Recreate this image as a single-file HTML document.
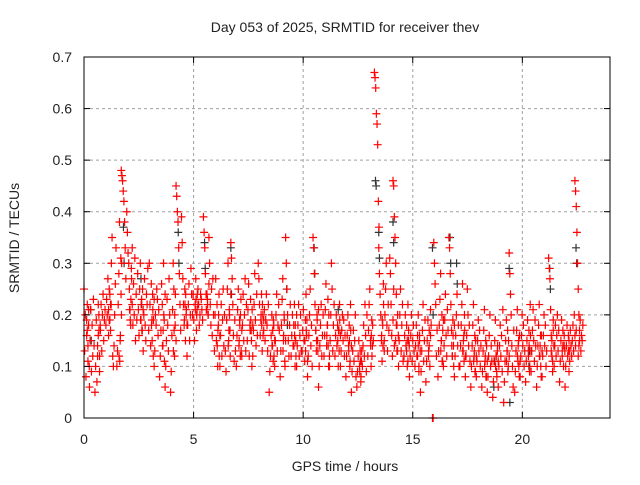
<!DOCTYPE html>
<html><head><meta charset="utf-8"><style>
body{margin:0;background:#fff;}
svg text{font-family:"Liberation Sans",sans-serif;font-size:14px;fill:#222;}
</style></head><body>
<svg id="chart" width="640" height="480" xmlns="http://www.w3.org/2000/svg">
<rect width="640" height="480" fill="#fff"/>
<g id="grid"></g>
<g id="marksBlack"></g>
<g id="marksRed"></g>
<rect x="84" y="57" width="526" height="361" fill="none" stroke="#000" stroke-width="1"/>
<g id="ticks"></g>
<text x="345" y="32" text-anchor="middle">Day 053 of 2025, SRMTID for receiver thev</text>
<text x="345" y="471" text-anchor="middle">GPS time / hours</text>
<text x="19" y="238" text-anchor="middle" transform="rotate(-90 19 238)">SRMTID / TECUs</text>
</svg>
<script>
const xTicks=[0,5,10,15,20];
const yTicks=[0,0.1,0.2,0.3,0.4,0.5,0.6,0.7];
const yTickLabels=["0","0.1","0.2","0.3","0.4","0.5","0.6","0.7"];
const redRows=[
[0.0,0.25,0.13,0.20,0.08,0.16,0.22,0.11,0.18],
[0.25,0.06,0.15,0.21,0.09,0.18,0.12,0.23,0.14],
[0.5,0.05,0.10,0.19,0.07,0.14,0.22,0.17,0.12],
[0.75,0.17,0.22,0.13,0.20,0.24,0.15,0.19,0.21],
[1.0,0.18,0.23,0.20,0.27,0.16,0.25,0.19,0.22],
[1.25,0.30,0.35,0.12,0.10,0.14,0.20,0.26,0.33],
[1.5,0.10,0.13,0.22,0.28,0.38,0.15,0.31,0.20],
[1.7,0.48,0.47,0.46,0.44,0.42,0.38,0.33,0.27],
[1.95,0.40,0.36,0.32,0.30,0.25,0.21,0.18,0.29],
[2.2,0.22,0.18,0.26,0.20,0.31,0.15,0.24,0.19],
[2.45,0.28,0.21,0.16,0.25,0.30,0.19,0.23,0.17],
[2.7,0.13,0.20,0.27,0.18,0.15,0.24,0.22,0.29],
[2.95,0.17,0.30,0.22,0.14,0.26,0.19,0.24,0.12],
[3.2,0.10,0.13,0.20,0.18,0.25,0.23,0.16,0.21],
[3.45,0.08,0.12,0.17,0.26,0.22,0.14,0.30,0.19],
[3.7,0.06,0.10,0.15,0.23,0.18,0.13,0.27,0.20],
[3.95,0.05,0.09,0.16,0.21,0.30,0.25,0.12,0.18],
[4.2,0.45,0.43,0.40,0.38,0.33,0.28,0.22,0.17],
[4.45,0.39,0.34,0.27,0.22,0.18,0.25,0.15,0.20],
[4.7,0.12,0.18,0.22,0.26,0.15,0.20,0.29,0.24],
[4.95,0.20,0.24,0.19,0.15,0.22,0.27,0.17,0.21],
[5.2,0.25,0.22,0.18,0.20,0.24,0.23,0.21,0.19],
[5.45,0.39,0.36,0.33,0.28,0.24,0.21,0.23,0.20],
[5.7,0.35,0.30,0.22,0.18,0.25,0.16,0.27,0.20],
[5.95,0.13,0.20,0.27,0.15,0.22,0.10,0.18,0.24],
[6.2,0.10,0.16,0.22,0.12,0.19,0.25,0.14,0.20],
[6.45,0.13,0.09,0.19,0.25,0.30,0.15,0.21,0.17],
[6.7,0.34,0.31,0.27,0.22,0.16,0.11,0.19,0.13],
[6.95,0.10,0.16,0.21,0.25,0.14,0.19,0.12,0.23],
[7.2,0.12,0.18,0.24,0.15,0.20,0.27,0.13,0.22],
[7.45,0.15,0.21,0.26,0.12,0.18,0.23,0.17,0.10],
[7.7,0.12,0.17,0.22,0.28,0.19,0.14,0.24,0.16],
[7.95,0.30,0.27,0.22,0.16,0.19,0.24,0.13,0.20],
[8.2,0.17,0.21,0.15,0.19,0.24,0.18,0.13,0.22],
[8.45,0.05,0.09,0.12,0.16,0.20,0.14,0.11,0.18],
[8.7,0.10,0.15,0.20,0.24,0.13,0.18,0.22,0.17],
[8.95,0.08,0.13,0.18,0.23,0.27,0.15,0.20,0.11],
[9.2,0.35,0.30,0.25,0.20,0.15,0.12,0.18,0.22],
[9.45,0.12,0.16,0.20,0.14,0.18,0.22,0.10,0.15],
[9.7,0.10,0.14,0.18,0.22,0.12,0.16,0.20,0.13],
[9.95,0.13,0.17,0.21,0.15,0.11,0.19,0.24,0.16],
[10.2,0.08,0.12,0.16,0.20,0.25,0.14,0.18,0.10],
[10.45,0.35,0.33,0.28,0.22,0.17,0.13,0.20,0.15],
[10.7,0.06,0.10,0.14,0.18,0.22,0.12,0.16,0.20],
[10.95,0.12,0.16,0.21,0.26,0.14,0.18,0.23,0.10],
[11.2,0.10,0.15,0.20,0.30,0.25,0.13,0.18,0.22],
[11.45,0.12,0.16,0.20,0.14,0.18,0.10,0.17,0.22],
[11.7,0.10,0.13,0.17,0.20,0.15,0.19,0.12,0.16],
[11.95,0.08,0.12,0.16,0.20,0.14,0.18,0.10,0.22],
[12.2,0.05,0.09,0.13,0.17,0.11,0.15,0.20,0.08],
[12.45,0.06,0.09,0.12,0.15,0.10,0.13,0.07,0.11],
[12.7,0.10,0.14,0.18,0.12,0.22,0.16,0.09,0.20],
[12.95,0.12,0.17,0.22,0.25,0.15,0.10,0.19,0.14],
[13.25,0.67,0.66,0.64,0.59,0.57,0.53,0.42,0.37],
[13.45,0.33,0.28,0.24,0.20,0.15,0.11,0.18,0.26],
[13.7,0.15,0.20,0.25,0.30,0.18,0.13,0.22,0.17],
[13.95,0.31,0.28,0.22,0.16,0.12,0.19,0.25,0.14],
[14.1,0.46,0.45,0.39,0.35,0.30,0.24,0.18,0.13],
[14.35,0.10,0.15,0.20,0.25,0.13,0.18,0.22,0.11],
[14.6,0.12,0.16,0.20,0.14,0.18,0.10,0.22,0.15],
[14.85,0.08,0.12,0.16,0.20,0.11,0.15,0.18,0.13],
[15.1,0.10,0.14,0.18,0.12,0.16,0.20,0.09,0.15],
[15.35,0.05,0.09,0.13,0.17,0.22,0.11,0.15,0.19],
[15.6,0.07,0.11,0.15,0.19,0.13,0.17,0.10,0.21],
[15.9,0.00,0.00,0.34,0.30,0.26,0.22,0.12,0.17],
[16.15,0.08,0.13,0.18,0.23,0.28,0.15,0.20,0.11],
[16.4,0.10,0.14,0.19,0.24,0.16,0.12,0.21,0.17],
[16.65,0.35,0.33,0.28,0.22,0.17,0.12,0.19,0.14],
[16.9,0.08,0.12,0.16,0.20,0.24,0.14,0.18,0.10],
[17.15,0.10,0.14,0.18,0.22,0.26,0.13,0.16,0.20],
[17.4,0.08,0.12,0.16,0.25,0.20,0.14,0.18,0.11],
[17.65,0.06,0.10,0.14,0.18,0.22,0.12,0.16,0.09],
[17.9,0.08,0.11,0.15,0.19,0.13,0.17,0.10,0.14],
[18.15,0.06,0.09,0.13,0.17,0.21,0.11,0.15,0.08],
[18.4,0.05,0.08,0.12,0.16,0.20,0.10,0.14,0.11],
[18.65,0.04,0.07,0.11,0.15,0.19,0.12,0.09,0.13],
[18.9,0.06,0.10,0.14,0.18,0.12,0.16,0.09,0.21],
[19.15,0.03,0.07,0.11,0.15,0.19,0.13,0.17,0.10],
[19.4,0.32,0.28,0.24,0.20,0.14,0.10,0.06,0.17],
[19.65,0.05,0.09,0.13,0.17,0.21,0.11,0.15,0.08],
[19.9,0.08,0.12,0.16,0.20,0.14,0.18,0.10,0.13],
[20.15,0.07,0.11,0.15,0.19,0.13,0.17,0.09,0.22],
[20.4,0.09,0.13,0.17,0.21,0.15,0.11,0.19,0.14],
[20.65,0.06,0.10,0.14,0.18,0.22,0.12,0.16,0.08],
[20.9,0.08,0.12,0.16,0.20,0.14,0.18,0.10,0.13],
[21.2,0.31,0.29,0.27,0.21,0.16,0.12,0.09,0.19],
[21.45,0.10,0.14,0.18,0.12,0.16,0.20,0.13,0.17],
[21.7,0.07,0.11,0.15,0.19,0.13,0.17,0.10,0.14],
[21.95,0.06,0.10,0.14,0.18,0.12,0.16,0.09,0.13],
[22.25,0.12,0.15,0.18,0.13,0.20,0.16,0.14,0.17],
[22.4,0.46,0.44,0.41,0.36,0.30,0.25,0.20,0.15],
[22.55,0.12,0.14,0.17,0.19,0.13,0.16,0.15,0.18],
[0.12,0.19,0.17,0.14,0.21,0.10],
[0.62,0.12,0.16,0.20,0.09,0.18],
[1.12,0.21,0.19,0.24,0.17,0.22],
[1.6,0.12,0.11,0.16,0.24,0.30],
[2.08,0.21,0.19,0.23,0.27,0.33],
[2.58,0.19,0.22,0.17,0.25,0.21],
[3.08,0.18,0.15,0.21,0.19,0.23],
[3.58,0.14,0.17,0.20,0.11,0.24],
[4.08,0.13,0.17,0.20,0.24,0.15],
[4.58,0.19,0.22,0.24,0.21,0.18],
[5.08,0.21,0.23,0.20,0.24,0.22],
[5.58,0.21,0.24,0.22,0.20,0.26],
[6.08,0.14,0.17,0.20,0.12,0.16],
[6.58,0.14,0.17,0.20,0.12,0.24],
[7.08,0.15,0.18,0.20,0.13,0.17],
[7.58,0.17,0.19,0.15,0.21,0.18],
[8.08,0.20,0.18,0.22,0.16,0.19],
[8.58,0.14,0.17,0.19,0.12,0.15],
[9.08,0.13,0.16,0.19,0.10,0.15],
[9.58,0.14,0.16,0.18,0.12,0.20],
[10.08,0.15,0.13,0.17,0.19,0.11],
[10.58,0.17,0.15,0.19,0.13,0.21],
[11.08,0.16,0.18,0.14,0.20,0.12],
[11.58,0.15,0.17,0.13,0.19,0.16],
[12.08,0.13,0.15,0.11,0.17,0.14],
[12.58,0.09,0.11,0.08,0.13,0.10],
[13.08,0.14,0.16,0.12,0.18,0.15],
[13.58,0.16,0.19,0.14,0.22,0.13],
[14.22,0.15,0.18,0.13,0.20,0.16],
[14.72,0.13,0.15,0.11,0.17,0.14],
[15.22,0.12,0.14,0.10,0.16,0.13],
[15.72,0.12,0.14,0.10,0.16,0.18],
[16.28,0.13,0.15,0.11,0.17,0.19],
[16.78,0.14,0.12,0.16,0.10,0.18],
[17.28,0.13,0.15,0.11,0.17,0.12],
[17.78,0.11,0.13,0.09,0.15,0.12],
[18.28,0.10,0.12,0.08,0.14,0.11],
[18.78,0.10,0.12,0.08,0.14,0.11],
[19.28,0.11,0.13,0.09,0.15,0.12],
[19.78,0.12,0.14,0.10,0.16,0.11],
[20.28,0.12,0.14,0.10,0.16,0.13],
[20.78,0.12,0.14,0.10,0.16,0.13],
[21.32,0.13,0.15,0.11,0.17,0.14],
[21.82,0.12,0.14,0.10,0.16,0.13],
[22.1,0.13,0.15,0.11,0.17,0.14]
];
const blackRows=[
[0.3,0.21,0.15],[1.8,0.37,0.30],[2.6,0.27,0.22],[4.3,0.36,0.30],
[5.5,0.34,0.29],[6.7,0.33,0.24],[9.25,0.25,0.18],[10.5,0.33,0.28],
[11.6,0.21,0.17],[13.3,0.46,0.45],[13.45,0.36,0.31],[14.1,0.38,0.34],
[16.7,0.35,0.30],[17.0,0.30,0.26],[19.4,0.29,0.03],[21.25,0.29,0.25],
[22.45,0.33,0.30],[15.9,0.33,0.20],[18.7,0.06,0.11],[20.3,0.10,0.13]
];
const X0=84,X1=610,Y0=418,Y1=57,XMAX=24,YMAX=0.7;
const sx=t=>X0+(t/XMAX)*(X1-X0);
const sy=v=>Y0-(v/YMAX)*(Y0-Y1);
const NS="http://www.w3.org/2000/svg";
const grid=document.getElementById('grid');
const ticks=document.getElementById('ticks');
function mk(tag,attrs,parent){const e=document.createElementNS(NS,tag);for(const k in attrs)e.setAttribute(k,attrs[k]);parent.appendChild(e);return e;}
yTicks.forEach((v,i)=>{
  const y=sy(v);
  if(i>0&&i<yTicks.length-1){
    const g=mk('line',{x1:X0,x2:X1,y1:y,y2:y,stroke:'#a0a0a0','stroke-dasharray':'3,3'},grid);
    
    
  }
  const t=mk('line',{x1:X0,x2:X0+6,y1:y,y2:y,stroke:'#000'},ticks);
  
  
  const t2=mk('line',{x1:X1-6,x2:X1,y1:y,y2:y,stroke:'#000'},ticks);
  
  
  const l=mk('text',{x:X0-12,y:y+5,'text-anchor':'end'},ticks);
  l.textContent=yTickLabels[i];
  
  
});
xTicks.forEach(v=>{
  const x=sx(v);
  if(v>0){
    const g=mk('line',{x1:x,x2:x,y1:Y1,y2:Y0,stroke:'#a0a0a0','stroke-dasharray':'3,3'},grid);
    
    
  }
  const t=mk('line',{x1:x,x2:x,y1:Y0,y2:Y0-6,stroke:'#000'},ticks);
  
  
  const t2=mk('line',{x1:x,x2:x,y1:Y1,y2:Y1+6,stroke:'#000'},ticks);
  
  
  const l=mk('text',{x:x,y:Y0+26,'text-anchor':'middle'},ticks);
  l.textContent=String(v);
  
  
});
function plot(rows,color,group,name){
  let d='';
  rows.forEach(r=>{for(let j=1;j<r.length;j++){const x=sx(r[0]+(j-1)*0.03),y=sy(r[j]);d+=`M${x-4} ${y}H${x+4}M${x} ${y-4}V${y+4}`;}});
  const p=mk('path',{d:d,stroke:color,'stroke-width':1.2,fill:'none'},group);
  
  
}
plot(blackRows,'#333',document.getElementById('marksBlack'),'black-points');
plot(redRows,'#ff0000',document.getElementById('marksRed'),'red-points');
</script>
</body></html>
